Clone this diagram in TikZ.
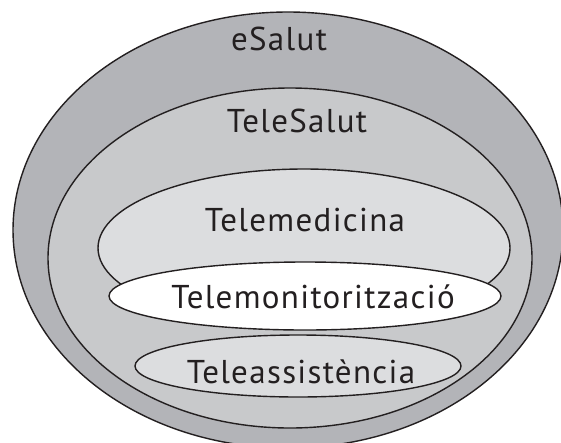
\documentclass[tikz,border=0pt]{standalone}
\usepackage{fontspec}
\setmainfont{PT Sans}[LetterSpace=4]
\definecolor{ringA}{RGB}{179,180,184}
\definecolor{ringB}{RGB}{200,201,203}
\definecolor{ringC}{RGB}{220,221,223}
\definecolor{inkc}{RGB}{35,31,32}
\tikzset{
  zone/.style={draw=inkc, line width=1.4pt},
  lbl/.style={anchor=base, inner sep=0pt, text=inkc, font=\fontsize{33}{33}\selectfont}
}
\begin{document}
\begin{tikzpicture}[x=1pt,y=-1pt]
\useasboundingbox (0,0) rectangle (561,442);
\clip (0,0) rectangle (561,442);
\fill[white] (0,0) rectangle (561,442);
\draw[zone, fill=ringA] (288,230) ellipse [x radius=275pt, y radius=218pt];
\draw[zone, fill=ringB] (290,258) ellipse [x radius=242pt, y radius=170pt];
\draw[zone, fill=ringC] (304,248) ellipse [x radius=206pt, y radius=79pt];
\draw[zone, fill=ringC] (298,366) ellipse [x radius=163pt, y radius=31pt];
\draw[zone, fill=white] (305,296) ellipse [x radius=196pt, y radius=34pt];
\node[lbl] (esalut) at (279,50) {eSalut};
\node[lbl] (telesalut) at (297,132) {TeleSalut};
\node[lbl] (telemed) at (305,231) {Telemedicina};
\node[lbl] (telemon) at (313,308) {Telemonitorització};
\node[lbl] (teleass) at (301,383) {Teleassistència};
\end{tikzpicture}
\end{document}
